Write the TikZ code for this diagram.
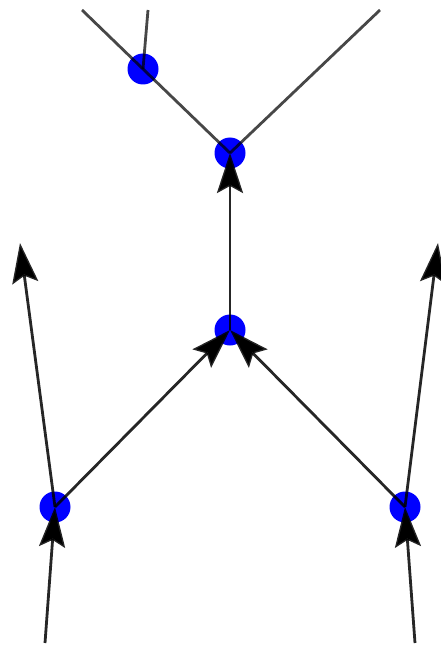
\documentclass[tikz,border=0pt]{standalone}
\usetikzlibrary{arrows.meta}
\begin{document}
\begin{tikzpicture}[x=1pt,y=-1pt,
  edge/.style={line width=2.8pt,draw=black,draw opacity=0.72},
  arr/.style={line width=2.8pt,draw=black,draw opacity=0.85,
    -{Stealth[length=40pt,width=26pt,inset=7pt]}},
  dot/.style={fill=blue}]
\useasboundingbox (0,0) rectangle (440,647);
% vertices
\coordinate (A) at (143,69);
\coordinate (B) at (230,153);
\coordinate (C) at (230,330);
\coordinate (D) at (55,507);
\coordinate (E) at (405,507);
% free ends
\coordinate (t1) at (82,10);
\coordinate (t2) at (148,10);
\coordinate (t3) at (380,10);
\coordinate (l1) at (20,243);
\coordinate (r1) at (438,243);
\coordinate (lb) at (45,643);
\coordinate (rb) at (415,643);
% dots
\foreach \p in {A,B,C,D,E} \fill[dot] (\p) circle (15.5pt);
% edges
\draw[edge] (t1) -- (A) -- (B);
\draw[edge] (t2) -- (A);
\draw[edge] (t3) -- (B);
\draw[arr] (C) -- (B);
\draw[arr] (D) -- (C);
\draw[arr] (E) -- (C);
\draw[arr] (lb) -- (D);
\draw[arr] (rb) -- (E);
\draw[arr] (D) -- (l1);
\draw[arr] (E) -- (r1);
\end{tikzpicture}
\end{document}
